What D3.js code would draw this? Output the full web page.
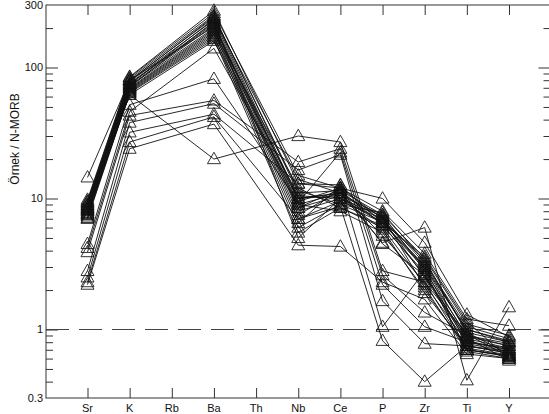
<!DOCTYPE html>
<html>
<head>
<meta charset="utf-8">
<script src="https://cdn.jsdelivr.net/npm/d3@7"></script>
<style>
  html, body { margin: 0; padding: 0; background: #fff; }
  svg { display: block; }
  text { font-family: "Liberation Sans", Arial, Helvetica, sans-serif; fill: #111; }
</style>
</head>
<body>
<svg id="chart" width="549" height="414"></svg>
<script>
// N-MORB normalised spider diagram
const elements = ["Sr", "K", "Rb", "Ba", "Th", "Nb", "Ce", "P", "Zr", "Ti", "Y"];
const measured = ["Sr", "K", "Ba", "Nb", "Ce", "P", "Zr", "Ti", "Y"];

// one row per sample, values in the order of `measured`
const groupA = [
  [9.8, 85, 272, 13, 12, 8.0, 3.8, 1.2, 1.07],
  [9.5, 82, 250, 11, 11.5, 7.5, 3.5, 1.1, 0.9],
  [9.2, 80, 240, 10, 11, 7.2, 3.2, 1.05, 0.85],
  [9.0, 78, 230, 9.5, 12, 7.0, 3.0, 1.0, 0.82],
  [8.8, 76, 220, 9, 11, 6.8, 3.4, 0.95, 0.8],
  [8.6, 75, 215, 8.5, 10.5, 7.5, 2.8, 0.9, 0.78],
  [8.4, 73, 210, 8, 10, 6.5, 3.0, 0.88, 0.75],
  [8.2, 72, 200, 7.5, 11.5, 6.3, 2.6, 0.85, 0.72],
  [8.0, 70, 195, 7, 9.5, 7.0, 2.5, 0.82, 0.7],
  [7.8, 69, 190, 12, 8.5, 6.0, 2.2, 0.8, 0.7],
  [7.6, 68, 185, 6.5, 12.5, 6.5, 2.9, 0.78, 0.68],
  [7.5, 67, 180, 10.5, 10, 5.8, 1.9, 0.75, 0.66],
  [7.3, 66, 175, 6, 9, 7.8, 3.3, 0.95, 0.65],
  [7.1, 65, 170, 9, 8, 5.5, 2.0, 0.72, 0.64],
  [7.0, 64, 165, 5.5, 8.5, 6.2, 2.7, 0.7, 0.63],
  [9.4, 84, 260, 15, 12, 10, 4.6, 1.3, 0.88],
  [8.9, 79, 245, 11.5, 9, 6.6, 3.6, 1.15, 0.6],
  [8.5, 74, 235, 14, 11, 5.2, 2.3, 0.92, 0.62],
  [8.3, 71, 225, 5, 10, 7.3, 2.1, 0.68, 0.6],
  [7.7, 62, 160, 8.5, 11.8, 4.5, 2.6, 0.86, 0.58],
  [14.5, 80, 205, 10, 10.5, 6.5, 3.1, 1.0, 0.8]
];
const groupB = [
  [4.5, 52, 82, 9.3, 22.5, 2.2, 1.05, 0.8, 0.72],
  [4.2, 46, 140, 10, 11, 4.6, 6.0, 0.41, 1.48],
  [3.9, 43, 56, 19, 24, 2.6, 1.35, 0.9, 0.75],
  [2.8, 38, 53, 16.5, 21.6, 1.65, 0.78, 0.75, 0.68],
  [2.5, 32, 44, 13, 12.7, 1.05, 2.8, 0.7, 0.62],
  [2.3, 27, 42, 7, 8.7, 0.82, 0.40, 0.75, 0.66],
  [2.2, 24, 37, 4.4, 4.3, 2.3, 1.7, 0.65, 0.6],
  [8.1, 62, 20, 30, 27, 2.8, 2.3, 0.7, 0.63]
];
const samples = groupA.concat(groupB);

const yMajor = [300, 100, 10, 1, 0.3];
const yLabels = ["300", "100", "10", "1", "0.3"];

const svg = d3.select("#chart");
const plotLeft = 46, plotRight = 549.5, plotTop = 5, plotBottom = 398;

const x = d3.scalePoint().domain(elements).range([87.5, 509]);
const y = d3.scaleLog().domain([0.3, 300]).range([plotBottom, plotTop]);

// minor ticks for every decade
const yMinor = [];
[0.1, 1, 10, 100].forEach(d => {
  for (let k = 2; k <= 9; k++) {
    const v = +(d * k).toPrecision(3);
    if (v > 0.3 && v < 300) yMinor.push(v);
  }
});

const axisColor = "#333";

function tickGroup(tx, axis) {
  svg.append("g")
    .attr("transform", tx)
    .call(axis)
    .call(g => g.select(".domain").remove())
    .call(g => g.selectAll("line").attr("stroke", axisColor));
}

// left and right axes
tickGroup(`translate(${plotLeft},0)`, d3.axisRight(y).tickValues(yMinor).tickSize(7).tickFormat(""));
tickGroup(`translate(${plotLeft},0)`, d3.axisRight(y).tickValues([100, 10, 1]).tickSize(12).tickFormat(""));
tickGroup(`translate(${plotRight},0)`, d3.axisLeft(y).tickValues(yMinor).tickSize(6).tickFormat(""));
tickGroup(`translate(${plotRight},0)`, d3.axisLeft(y).tickValues([100, 10, 1]).tickSize(11).tickFormat(""));

// y labels
svg.append("g").selectAll("text")
  .data(yMajor)
  .join("text")
  .attr("x", plotLeft - 3)
  .attr("y", d => y(d))
  .attr("dy", "0.36em")
  .attr("text-anchor", "end")
  .attr("font-size", 11)
  .text((d, i) => yLabels[i]);

// x ticks top and bottom
tickGroup(`translate(0,${plotTop})`, d3.axisBottom(x).tickSize(10).tickFormat(""));
tickGroup(`translate(0,${plotBottom})`, d3.axisTop(x).tickSize(10).tickFormat(""));

// x labels
svg.append("g").selectAll("text")
  .data(elements)
  .join("text")
  .attr("x", d => x(d))
  .attr("y", 412)
  .attr("text-anchor", "middle")
  .attr("font-size", 11)
  .text(d => d);

// y title
svg.append("text")
  .attr("transform", "translate(19,139) rotate(-90)")
  .attr("text-anchor", "middle")
  .attr("font-size", 12)
  .text("Örnek / N-MORB");

// reference line at 1
svg.append("line")
  .attr("x1", plotLeft).attr("x2", plotRight)
  .attr("y1", y(1)).attr("y2", y(1))
  .attr("stroke", "#444")
  .attr("stroke-width", 1.1)
  .attr("stroke-dasharray", "23,10");

// sample patterns
const line = d3.line()
  .x((d, i) => x(measured[i]))
  .y(d => y(d));

svg.append("g")
  .selectAll("path")
  .data(samples)
  .join("path")
  .attr("d", d => line(d))
  .attr("fill", "none")
  .attr("stroke", "#111")
  .attr("stroke-width", 0.9);

// triangle markers
const pts = [];
samples.forEach(s => s.forEach((v, i) => pts.push({ el: measured[i], v })));
const tri = "M0,-6.8L6.5,4.6L-6.5,4.6Z";
svg.append("g")
  .selectAll("path")
  .data(pts)
  .join("path")
  .attr("transform", d => `translate(${x(d.el)},${y(d.v)})`)
  .attr("d", tri)
  .attr("fill", "none")
  .attr("stroke", "#111")
  .attr("stroke-width", 0.85);

// frame
svg.append("rect")
  .attr("x", plotLeft).attr("y", plotTop)
  .attr("width", plotRight - plotLeft).attr("height", plotBottom - plotTop)
  .attr("fill", "none")
  .attr("stroke", axisColor)
  .attr("stroke-width", 1);
</script>
</body>
</html>
